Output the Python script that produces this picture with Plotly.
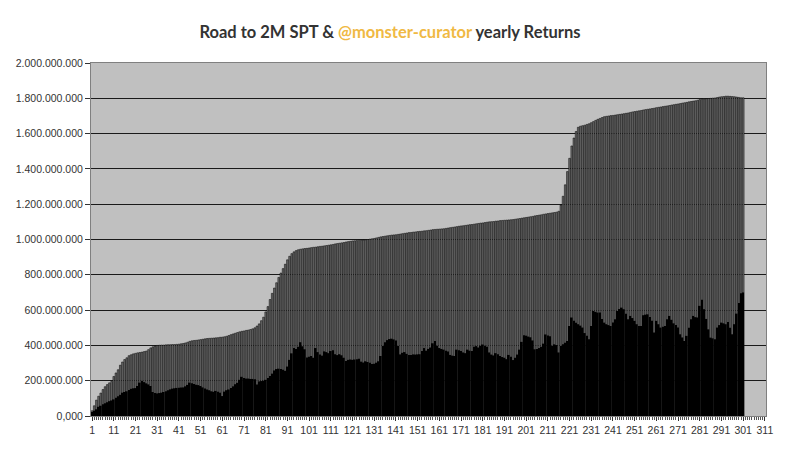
import plotly.graph_objects as go

# values in millions of SPT
total_spt = [
    30, 58, 90, 112, 130, 150, 166, 178, 188, 196,
    224, 244, 262, 288, 306, 320, 330, 342, 347, 352,
    355, 358, 360, 362, 365, 368, 376, 386, 392, 396,
    400, 401, 402, 402, 403, 404, 404, 405, 405, 406,
    407, 409, 411, 414, 418, 423, 426, 428, 429, 431,
    433, 435, 437, 439, 440, 441, 442, 443, 444, 446,
    447, 449, 452, 456, 461, 465, 469, 473, 477, 480,
    482, 485, 487, 490, 494, 500, 510, 522, 540, 560,
    590, 620, 660, 695, 725, 755, 785, 810, 835, 860,
    885, 905, 920, 930, 937, 942, 945, 947, 949, 950,
    952, 954, 956, 957, 959, 961, 962, 964, 966, 968,
    970, 972, 975, 977, 979, 981, 983, 986, 988, 990,
    992, 993, 994, 995, 996, 997, 998, 1000, 1002, 1004,
    1006, 1009, 1012, 1015, 1017, 1019, 1021, 1023, 1025, 1026,
    1027, 1029, 1031, 1033, 1035, 1037, 1039, 1040, 1042, 1043,
    1045, 1046, 1047, 1049, 1050, 1052, 1054, 1056, 1057, 1058,
    1059, 1060, 1061, 1063, 1065, 1067, 1069, 1071, 1073, 1075,
    1077, 1078, 1080, 1082, 1084, 1085, 1087, 1089, 1091, 1093,
    1094, 1096, 1098, 1100, 1101, 1102, 1104, 1105, 1107, 1108,
    1109, 1110, 1111, 1112, 1113, 1115, 1117, 1119, 1121, 1123,
    1125, 1127, 1129, 1131, 1134, 1136, 1138, 1140, 1143, 1145,
    1147, 1149, 1151, 1153, 1155, 1160, 1195, 1245, 1310, 1385,
    1460, 1530, 1575, 1612, 1636, 1642, 1645, 1648, 1652, 1656,
    1662, 1668, 1675, 1681, 1686, 1691, 1696, 1698, 1700, 1702,
    1703, 1705, 1707, 1709, 1711, 1713, 1715, 1717, 1720, 1723,
    1725, 1727, 1729, 1731, 1734, 1736, 1738, 1740, 1742, 1744,
    1747, 1749, 1751, 1753, 1755, 1757, 1759, 1762, 1764, 1766,
    1768, 1770, 1773, 1775, 1777, 1780, 1782, 1784, 1786, 1789,
    1793, 1795, 1797, 1798, 1799, 1800, 1801, 1802, 1804, 1807,
    1809, 1810, 1812, 1812, 1811, 1810, 1809, 1807, 1805, 1803, 1803,
]

yearly_returns = [
    22, 30, 38, 52, 58, 66, 72, 78, 84, 88,
    94, 104, 112, 120, 132, 136, 140, 148, 154, 157,
    158, 170, 189, 198, 192, 185, 179, 170, 136, 130,
    128, 130, 132, 136, 140, 146, 151, 155, 157, 159,
    160, 161, 162, 168, 176, 189, 186, 182, 177, 175,
    170, 162, 156, 150, 146, 140, 137, 142, 138, 132,
    113, 138, 146, 150, 158, 168, 180, 188, 205, 222,
    215, 212, 212, 210, 210, 208, 178, 196, 198, 200,
    205, 216, 226, 240, 258, 266, 268, 266, 262, 256,
    280, 318, 355, 385, 380, 392, 418, 395, 378, 332,
    336, 340, 330, 385, 362, 348, 342, 366, 362, 356,
    368, 372, 350, 345, 350, 344, 330, 312, 318, 320,
    318, 320, 322, 324, 308, 303, 310, 306, 302, 294,
    296, 302, 310, 340, 396, 418, 430, 436, 438, 434,
    428, 396, 349, 358, 362, 352, 346, 345, 349, 348,
    349, 350, 368, 385, 370, 380, 388, 412, 425, 398,
    385, 380, 376, 370, 366, 346, 342, 340, 376, 372,
    368, 360, 356, 376, 370, 368, 392, 396, 388, 398,
    405, 398, 392, 360, 348, 343, 356, 350, 340, 334,
    330, 322, 346, 335, 317, 330, 348, 376, 420, 458,
    455, 450, 446, 428, 378, 380, 385, 392, 410, 462,
    456, 452, 398, 406, 402, 360, 396, 406, 415, 425,
    510, 558, 540, 528, 520, 512, 501, 470, 454, 435,
    510, 595, 590, 586, 586, 550, 529, 520, 515, 510,
    530, 548, 595, 606, 614, 605, 580, 548, 567, 555,
    539, 520, 510, 510, 571, 574, 576, 561, 540, 473,
    539, 520, 501, 505, 510, 548, 567, 545, 525, 515,
    501, 463, 445, 425, 454, 500, 548, 567, 560, 558,
    624, 658, 605, 550, 491, 444, 440, 435, 501, 515,
    529, 525, 520, 533, 500, 463, 520, 580, 640, 695, 700,
]

days = list(range(1, len(total_spt) + 1))

x_ticks = list(range(1, 312, 10))
y_ticks = [i * 200_000_000 for i in range(11)]
y_labels = [
    "0,000", "200.000.000", "400.000.000", "600.000.000", "800.000.000",
    "1.000.000.000", "1.200.000.000", "1.400.000.000", "1.600.000.000",
    "1.800.000.000", "2.000.000.000",
]

tick_font = dict(family="Arial, Liberation Sans", size=10.5, color="#333333")

fig = go.Figure()
fig.add_trace(
    go.Bar(
        x=days,
        y=[v * 1e6 for v in total_spt],
        marker=dict(color="#6A6A6A", line=dict(color="#000000", width=0.5)),
        name="SPT",
    )
)
fig.add_trace(
    go.Bar(
        x=days,
        y=[v * 1e6 for v in yearly_returns],
        marker=dict(color="#000000", line=dict(width=0)),
        name="returns",
    )
)

title = (
    "<b>Road to 2M SPT &amp; <span style='color:#F0B944'>@monster-curator</span>"
    " yearly Returns</b>"
)

# the page body adds an 8px offset, so margins are shifted to compensate
fig.update_layout(
    width=785,
    height=449,
    barmode="overlay",
    bargap=0.2,
    showlegend=False,
    paper_bgcolor="white",
    plot_bgcolor="#C0C0C0",
    margin=dict(l=83, r=27, t=55, b=41, autoexpand=False),
    title=dict(
        text=title,
        x=382 / 785,
        xanchor="center",
        y=1 - 24 / 449,
        yanchor="middle",
        font=dict(family="Lato", size=16.5, color="#333333"),
    ),
    font=tick_font,
    xaxis=dict(
        range=[0.5, 311.5],
        tickvals=x_ticks,
        ticktext=[str(t) for t in x_ticks],
        ticks="outside",
        ticklen=4,
        tickcolor="#333333",
        minor=dict(dtick=1, ticks="outside", ticklen=3, tickcolor="#555555"),
        showgrid=False,
        showline=True,
        linecolor="#808080",
        mirror=True,
        zeroline=False,
        tickfont=tick_font,
    ),
    yaxis=dict(
        range=[0, 2_000_000_000],
        tickvals=y_ticks,
        ticktext=y_labels,
        ticks="outside",
        ticklen=5,
        tickcolor="#333333",
        showgrid=True,
        gridcolor="#1A1A1A",
        gridwidth=1,
        showline=True,
        linecolor="#808080",
        mirror=True,
        zeroline=False,
        tickfont=tick_font,
    ),
)

fig.write_html("out.html")
